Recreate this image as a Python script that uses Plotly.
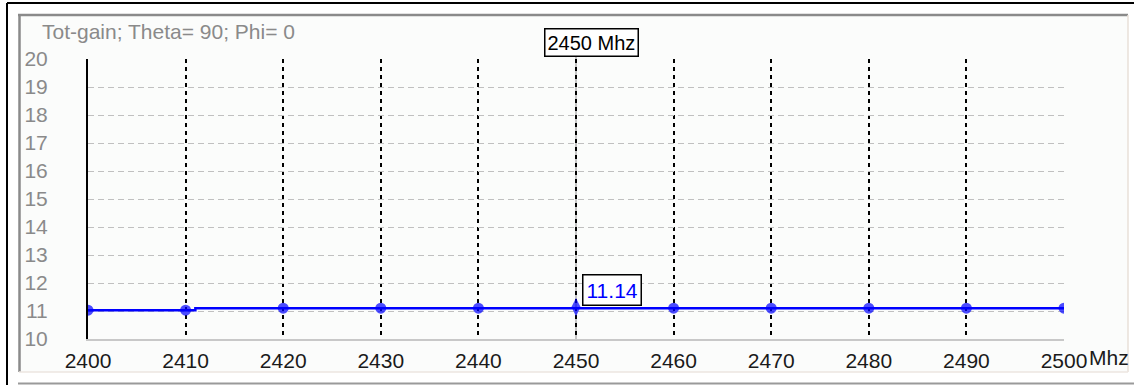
import plotly.graph_objects as go

# ---- data ----
freq_mhz = [2400, 2410, 2420, 2430, 2440, 2450, 2460, 2470, 2480, 2490, 2500]
gain = [11.03, 11.03, 11.1, 11.1, 11.1, 11.14, 11.1, 11.1, 11.1, 11.1, 11.1]
# traced line (with the small step seen just after 2410 MHz)
line_freq = [2400, 2410, 2411, 2411, 2420, 2430, 2440, 2450, 2460, 2470, 2480, 2490, 2500]
line_gain = [11.03, 11.03, 11.03, 11.1, 11.1, 11.1, 11.1, 11.12, 11.1, 11.1, 11.1, 11.1, 11.1]
x_ticks = [2400, 2410, 2420, 2430, 2440, 2450, 2460, 2470, 2480, 2490, 2500]
x_ticktext = [str(v) for v in x_ticks]
y_ticks = [10, 11, 12, 13, 14, 15, 16, 17, 18, 19, 20]
title_text = "Tot-gain; Theta= 90; Phi= 0"
cursor_freq = 2450
cursor_label = "2450 Mhz"
cursor_value = "11.14"

W, H = 1134, 385
L, R, T, B = 88, 1064, 59, 339
FONT = "Liberation Sans"


def px(xp):
    return (xp - L) / (R - L)


def py(yp):
    return (B - yp) / (B - T)


fig = go.Figure()

fig.add_trace(go.Scatter(
    x=line_freq, y=line_gain, mode="lines",
    line=dict(color="#0000ff", width=2.5), hoverinfo="skip", showlegend=False,
))
symbols = ["diamond-tall" if f == cursor_freq else "circle" for f in freq_mhz]
sizes = [13 if f == cursor_freq else 11 for f in freq_mhz]
fig.add_trace(go.Scatter(
    x=freq_mhz, y=gain, mode="markers",
    marker=dict(color="#0000ff", size=sizes, symbol=symbols, line=dict(width=0)),
    showlegend=False,
))

shapes = []
# panel background
shapes.append(dict(type="rect", xref="paper", yref="paper", x0=px(19), x1=px(1128), y0=py(372), y1=py(15),
                   fillcolor="#fbfcfb", line=dict(width=0), layer="below"))
# outer black frame
shapes.append(dict(type="line", xref="paper", yref="paper", x0=px(7), x1=px(1134), y0=py(3), y1=py(3),
                   line=dict(color="#000000", width=2)))
shapes.append(dict(type="line", xref="paper", yref="paper", x0=px(7), x1=px(7), y0=py(3), y1=py(385),
                   line=dict(color="#000000", width=2)))
# inset grey frame
shapes.append(dict(type="line", xref="paper", yref="paper", x0=px(18), x1=px(1128), y0=py(15), y1=py(15),
                   line=dict(color="#8a8a8a", width=2.5)))
shapes.append(dict(type="line", xref="paper", yref="paper", x0=px(19.5), x1=px(19.5), y0=py(15), y1=py(372),
                   line=dict(color="#8a8a8a", width=2.5)))
shapes.append(dict(type="line", xref="paper", yref="paper", x0=px(1128), x1=px(1128), y0=py(15), y1=py(372),
                   line=dict(color="#e8e0d8", width=1.5)))
shapes.append(dict(type="line", xref="paper", yref="paper", x0=px(19), x1=px(1128), y0=py(372), y1=py(372),
                   line=dict(color="#ece6e0", width=1.5)))
shapes.append(dict(type="line", xref="paper", yref="paper", x0=px(18), x1=px(1134), y0=py(383.5), y1=py(383.5),
                   line=dict(color="#9a9a9a", width=2)))
# cursor line
shapes.append(dict(type="line", xref="x", yref="paper", x0=cursor_freq, x1=cursor_freq, y0=0, y1=py(56),
                   line=dict(color="#c4c4c4", width=2), layer="below"))

fig.update_layout(
    width=W, height=H,
    margin=dict(l=L, r=W - R, t=T, b=H - B),
    paper_bgcolor="#ffffff",
    plot_bgcolor="rgba(0,0,0,0)",
    shapes=shapes,
    font=dict(family=FONT),
    xaxis=dict(
        range=[2400, 2500], tickmode="array", tickvals=x_ticks, ticktext=x_ticktext,
        showgrid=True, gridcolor="#000000", gridwidth=2, griddash="4px,4px",
        showline=True, linecolor="#c8c8c8", linewidth=2,
        ticks="", ticklabelstandoff=2,
        tickfont=dict(family=FONT, size=21, color="#1a1a1a"),
        zeroline=False, fixedrange=True,
    ),
    yaxis=dict(
        range=[10, 20], tickmode="array", tickvals=y_ticks,
        showgrid=True, gridcolor="#c0c0c0", gridwidth=1, griddash="6px,4px",
        showline=True, linecolor="#000000", linewidth=2,
        ticks="", ticklabelstandoff=34,
        tickfont=dict(family=FONT, size=21, color="#8a8a8a"),
        zeroline=False, fixedrange=True,
    ),
    annotations=[
        dict(text=title_text, xref="paper", yref="paper", x=px(40), y=py(32), xanchor="left", yanchor="middle",
             showarrow=False, font=dict(family=FONT, size=21, color="#8a8a8a")),
        dict(text=cursor_label, xref="x", yref="paper", x=cursor_freq, y=py(42), xanchor="center", yanchor="middle",
             xshift=15, showarrow=False, bgcolor="#ffffff", bordercolor="#000000", borderwidth=1.5, borderpad=2,
             font=dict(family=FONT, size=20, color="#000000")),
        dict(text=cursor_value, xref="x", yref="y", x=cursor_freq, y=float(cursor_value), xanchor="left",
             yanchor="bottom", xshift=6, yshift=1, showarrow=False, bgcolor="#ffffff", bordercolor="#000000",
             borderwidth=1.5, borderpad=3, font=dict(family=FONT, size=21, color="#0000ff")),
        dict(text="Mhz", xref="x", yref="paper", x=2500, y=py(357), xanchor="left", yanchor="middle",
             xshift=23, showarrow=False, font=dict(family=FONT, size=21, color="#1a1a1a")),
    ],
)

fig.write_html("out.html", config={"displayModeBar": False})
